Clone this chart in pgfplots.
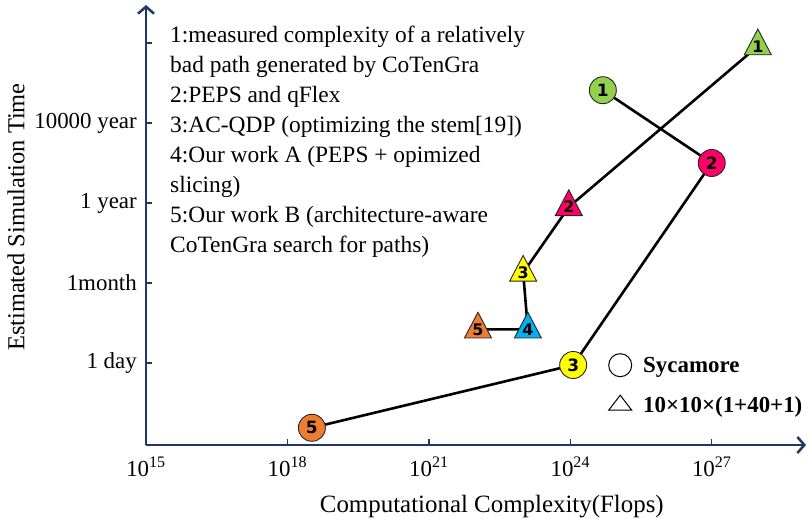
\documentclass[border=0pt]{standalone}
\usepackage{pgfplots}
\pgfplotsset{compat=1.18}
\usepackage{fontspec}
\setmainfont{Liberation Serif}
\newfontfamily\numfont{DejaVu Sans}
\usetikzlibrary{arrows.meta}
\definecolor{navy}{HTML}{1F3864}
\definecolor{cgreen}{HTML}{92D050}
\definecolor{cpink}{HTML}{FF0066}
\definecolor{cyellow}{HTML}{FFFF00}
\definecolor{cblue}{HTML}{00B0F0}
\definecolor{corange}{HTML}{ED7D31}
\newcommand{\circpt}[4]{%
  \addplot[only marks, mark=*, mark size=13.5bp, mark options={fill=#3, draw=black!85, line width=0.9bp}, forget plot] coordinates {(#1,#2)};
  \addplot[only marks, mark=text, text mark={#4}, text mark as node=true, text mark style={font=\numfont\bfseries\fontsize{17}{17}\selectfont, inner sep=0pt}, forget plot] coordinates {(#1,#2)};
}
\newcommand{\tript}[4]{%
  \addplot[only marks, mark=triangle*, mark size=15.6bp, mark options={fill=#3, draw=black!85, line width=0.9bp, yscale=1.1}, forget plot] coordinates {(#1,#2)};
  \addplot[only marks, mark=text, text mark={#4}, text mark as node=true, text mark style={font=\numfont\bfseries\fontsize{16}{16}\selectfont, inner sep=0pt}, forget plot] coordinates {(#1,#2)};
}
\begin{document}
\begin{tikzpicture}
\begin{axis}[
  scale only axis, width=660bp, height=440bp,
  xmode=log, xmin=1e15, xmax=1e29, ymin=-0.025, ymax=5.475,
  axis lines=left,
  axis line style={navy, line width=2.5bp, -{Straight Barb[length=7bp, width=16bp]}},
  x axis line style={-{Straight Barb[length=7bp, width=16bp]}},
  y axis line style={-{Straight Barb[length=7bp, width=16bp]}},
  xtick={1e15,1e18,1e21,1e24,1e27},
  xticklabels={10\textsuperscript{15},10\textsuperscript{18},10\textsuperscript{21},10\textsuperscript{24},10\textsuperscript{27}},
  minor xtick={},
  ytick={1,2,3,4,5},
  yticklabels={1 day,1month,1 year,10000 year,{}},
  tick align=inside, major tick length=6bp,
  tick style={navy, line width=1.5bp},
  ticklabel style={font=\fontsize{23}{23}\selectfont, inner sep=0pt},
  x tick label style={anchor=north, yshift=-12bp},
  y tick label style={anchor=east, xshift=-9bp},
  xlabel={Computational Complexity(Flops)},
  ylabel={Estimated Simulation Time},
  xlabel style={at={([yshift=-67bp]axis description cs:0.524,0)}, anchor=base, font=\fontsize{25}{25}\selectfont, inner sep=0pt},
  ylabel style={at={([xshift=-130bp]axis description cs:0,0.518)}, anchor=center, font=\fontsize{24.5}{24.5}\selectfont, inner sep=0pt},
  clip=false,
  legend style={at={(0.700,0.2091)}, anchor=north west, draw=none, fill=none, inner sep=0pt,
    nodes={inner sep=0pt, font=\bfseries\fontsize{23}{23}\selectfont},
    column sep=11bp, row sep=16bp},
  legend cell align=left,
  legend image code/.code={\path[draw=none, fill=none] (-12bp,-12bp) rectangle (12bp,12bp); \draw[#1] plot coordinates {(0bp,0bp)};},
]
% connecting lines
\addplot[black, line width=2.6bp, forget plot] coordinates {(4.9e24,4.41) (1.0e27,3.50) (1.15e24,0.975) (3.3e18,0.19)};
\addplot[black, line width=2.6bp, forget plot] coordinates {(9.5e27,4.96) (9.3e23,2.95) (1.0e23,2.13) (1.26e23,1.42) (1.1e22,1.42)};
% Sycamore (circles)
\circpt{4.9e24}{4.41}{cgreen}{1}
\circpt{1.0e27}{3.50}{cpink}{2}
\circpt{1.15e24}{0.975}{cyellow}{3}
\circpt{3.3e18}{0.19}{corange}{5}
% 10x10x(1+40+1) (triangles)
\tript{9.5e27}{4.96}{cgreen}{1}
\tript{9.3e23}{2.95}{cpink}{2}
\tript{1.0e23}{2.13}{cyellow}{3}
\tript{1.26e23}{1.42}{cblue}{4}
\tript{1.1e22}{1.42}{corange}{5}
\addlegendimage{only marks, mark=o, mark size=11.5bp, black, line width=1bp}
\addlegendentry{Sycamore}
\addlegendimage{only marks, mark=triangle, mark size=13.3bp, black, line width=1bp, mark options={yscale=0.75}}
\addlegendentry{10×10×(1+40+1)}
\end{axis}
\begin{scope}[every node/.style={anchor=base west, inner sep=0pt, font=\fontsize{23.5}{30}\selectfont}]
\node at (24bp,402bp) {1:measured complexity of a relatively};
\node at (24bp,372bp) {bad path generated by CoTenGra};
\node at (24bp,342bp) {2:PEPS and qFlex};
\node at (24bp,312bp) {3:AC-QDP (optimizing the stem[19])};
\node at (24bp,282bp) {4:Our work A (PEPS + opimized};
\node at (24bp,252bp) {slicing)};
\node at (24bp,222bp) {5:Our work B (architecture-aware};
\node at (24bp,192bp) {CoTenGra search for paths)};
\end{scope}
\pgfresetboundingbox
\useasboundingbox (-146bp,-74bp) rectangle (663bp,445bp);
\end{tikzpicture}
\end{document}
